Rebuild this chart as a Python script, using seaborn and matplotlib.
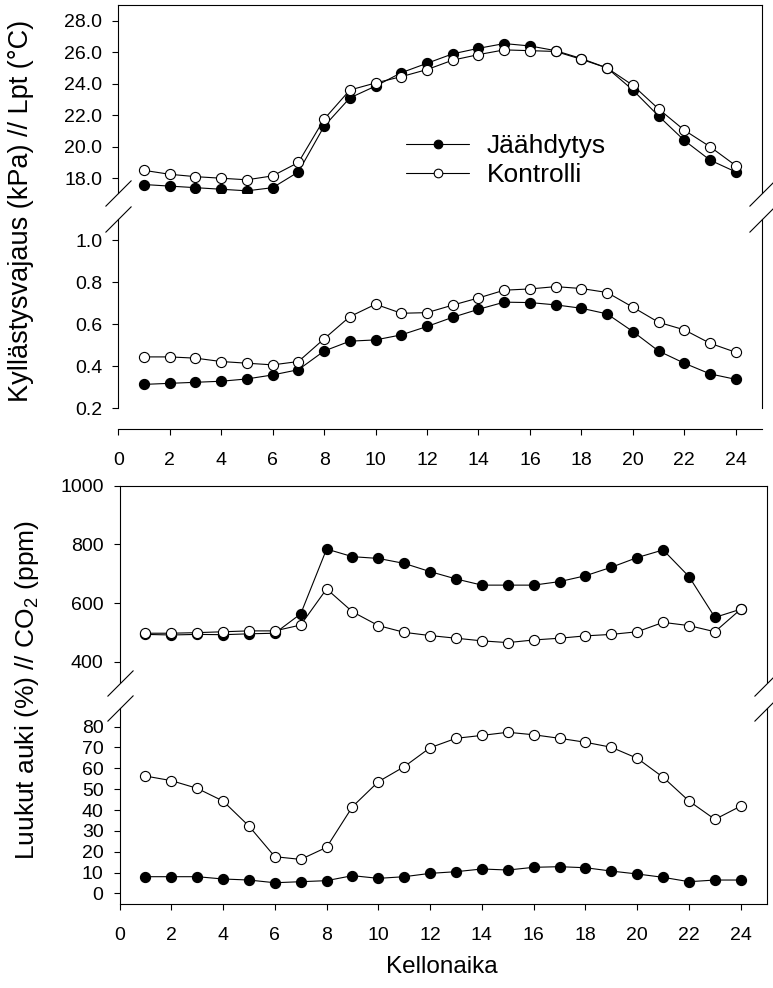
import numpy as np
import pandas as pd
import seaborn as sns
import matplotlib
matplotlib.use("Agg")
import matplotlib.pyplot as plt
from matplotlib.ticker import FormatStrFormatter

# Data (hourly means)
hours = list(range(1, 25))
groups = ["Jäähdytys", "Kontrolli"]

temp_cool = [17.6, 17.5, 17.4, 17.3, 17.2, 17.4, 18.4, 21.3, 23.1, 23.85, 24.7, 25.3,
             25.9, 26.25, 26.55, 26.4, 26.1, 25.6, 25.0, 23.6, 21.95, 20.4, 19.15, 18.4]
temp_ctrl = [18.5, 18.25, 18.1, 18.0, 17.9, 18.15, 19.0, 21.75, 23.6, 24.05, 24.45, 24.9,
             25.5, 25.85, 26.15, 26.1, 26.05, 25.55, 25.0, 23.9, 22.4, 21.05, 20.0, 18.8]

vpd_cool = [0.314, 0.319, 0.324, 0.329, 0.34, 0.359, 0.384, 0.473, 0.52, 0.526, 0.55, 0.59,
            0.634, 0.672, 0.706, 0.704, 0.693, 0.677, 0.65, 0.566, 0.473, 0.415, 0.364, 0.338]
vpd_ctrl = [0.445, 0.445, 0.439, 0.423, 0.415, 0.407, 0.423, 0.531, 0.637, 0.696, 0.653, 0.656,
            0.692, 0.726, 0.763, 0.769, 0.78, 0.771, 0.752, 0.682, 0.61, 0.574, 0.51, 0.467]

co2_cool = [493, 491, 493, 492, 495, 497, 563, 784, 758, 752, 735, 707,
            682, 661, 661, 661, 673, 693, 722, 755, 781, 690, 551, 579]
co2_ctrl = [497, 497, 499, 502, 505, 505, 525, 648, 570, 523, 500, 489,
            480, 471, 465, 474, 480, 488, 493, 502, 534, 523, 502, 579]

vent_cool = [8.0, 8.0, 8.0, 6.9, 6.4, 5.1, 5.6, 6.1, 8.5, 7.2, 8.0, 9.6,
             10.4, 11.7, 11.2, 12.5, 12.8, 12.3, 10.7, 9.3, 7.7, 5.6, 6.4, 6.4]
vent_ctrl = [56.3, 54.1, 50.4, 44.3, 32.3, 17.6, 16.3, 22.1, 41.6, 53.6, 60.8, 69.9,
             74.4, 75.8, 77.3, 76.1, 74.4, 72.5, 70.1, 64.8, 55.7, 44.3, 35.5, 41.9]

temp_ticks = [18.0, 20.0, 22.0, 24.0, 26.0, 28.0]
vpd_ticks = [0.2, 0.4, 0.6, 0.8, 1.0]
co2_ticks = [400, 600, 800, 1000]
vent_ticks = list(range(0, 81, 10))
hour_ticks = list(range(0, 25, 2))


def long_df(cool, ctrl):
    return pd.DataFrame({
        "hour": hours * 2,
        "value": cool + ctrl,
        "group": [groups[0]] * len(hours) + [groups[1]] * len(hours),
    })


sns.set_style("ticks")
plt.rcParams["font.family"] = ["Liberation Sans", "DejaVu Sans"]
plt.rcParams["mathtext.fontset"] = "custom"
plt.rcParams["mathtext.rm"] = "Liberation Sans"
plt.rcParams["mathtext.default"] = "regular"
for key in ("text.color", "axes.labelcolor", "xtick.color", "ytick.color", "axes.edgecolor"):
    plt.rcParams[key] = "black"
plt.rcParams["axes.linewidth"] = 0.8
plt.rcParams["xtick.major.width"] = 0.8
plt.rcParams["ytick.major.width"] = 0.8
plt.rcParams["xtick.major.size"] = 4.5
plt.rcParams["ytick.major.size"] = 4.5
plt.rcParams["xtick.major.pad"] = 12
plt.rcParams["ytick.major.pad"] = 7

W, H = 773, 988
fig = plt.figure(figsize=(W / 100, H / 100), dpi=100)


def box(left, top, right, bottom):
    return [left / W, 1 - bottom / H, (right - left) / W, (bottom - top) / H]


ax_temp = fig.add_axes(box(118.3, 5, 761.5, 193.5))
ax_vpd = fig.add_axes(box(118.3, 219.5, 761.5, 408.3))
ax_co2 = fig.add_axes(box(119.5, 485.7, 766.7, 682.5))
ax_vent = fig.add_axes(box(119.5, 708.3, 766.7, 904))

style = {
    groups[0]: dict(markerfacecolor="black"),
    groups[1]: dict(markerfacecolor="white"),
}


def draw(ax, cool, ctrl):
    df = long_df(cool, ctrl)
    for g in groups:
        sns.lineplot(data=df[df["group"] == g], x="hour", y="value", ax=ax,
                     color="black", linewidth=0.8, marker="o", markersize=7.3,
                     markeredgecolor="black", markeredgewidth=0.8,
                     errorbar=None, sort=False, label=g, legend=False,
                     **style[g])
    ax.set_xlim(0, 25)
    ax.set_xlabel("")
    ax.set_ylabel("")
    ax.tick_params(labelsize=14, right=False, top=False)


draw(ax_temp, temp_cool, temp_ctrl)
draw(ax_vpd, vpd_cool, vpd_ctrl)
draw(ax_co2, co2_cool, co2_ctrl)
draw(ax_vent, vent_cool, vent_ctrl)

ax_temp.set_ylim(17.03, 29.0)
ax_temp.set_yticks(temp_ticks)
ax_temp.yaxis.set_major_formatter(FormatStrFormatter("%.1f"))
ax_vpd.set_ylim(0.2, 1.1)
ax_vpd.set_yticks(vpd_ticks)
ax_vpd.yaxis.set_major_formatter(FormatStrFormatter("%.1f"))
ax_co2.set_ylim(329, 1000)
ax_co2.set_yticks(co2_ticks)
ax_vent.set_ylim(-5.1, 88.8)
ax_vent.set_yticks(vent_ticks)

for ax in (ax_temp, ax_co2):
    ax.spines["bottom"].set_visible(False)
    ax.tick_params(bottom=False, labelbottom=False)
for ax in (ax_vpd, ax_vent):
    ax.spines["top"].set_visible(False)
    ax.set_xticks(hour_ticks)
ax_vpd.spines["bottom"].set_position(("outward", 14.9))


def break_marks(ax, y):
    ax.plot([0, 1], [y, y], transform=ax.transAxes, marker=[(-1, -1), (1, 1)],
            markersize=18.7, linestyle="none", color="black", mec="black",
            mew=0.8, clip_on=False)


break_marks(ax_temp, 0)
break_marks(ax_vpd, 1)
break_marks(ax_co2, 0)
break_marks(ax_vent, 1)

handles, labels = ax_temp.get_legend_handles_labels()
ax_temp.legend(handles, labels, loc="upper left", frameon=False,
               bbox_to_anchor=(406 / W, 1 - 134 / H), bbox_transform=fig.transFigure,
               borderaxespad=0, borderpad=0, handlelength=2.4, handletextpad=0.65,
               labelspacing=0.2, markerscale=0.85, fontsize=19)

fig.text(21 / W, 1 - 211 / H, "Kyllästysvajaus (kPa) // Lpt (°C)", rotation=90,
         ha="center", va="center", fontsize=19.5)
fig.text(27 / W, 1 - 690 / H, "Luukut auki (%) // CO$_2$ (ppm)", rotation=90,
         ha="center", va="center", fontsize=19)
fig.text(442 / W, 1 - 967 / H, "Kellonaika", ha="center", va="center", fontsize=17.5)

fig.savefig("out.png", dpi=100)
